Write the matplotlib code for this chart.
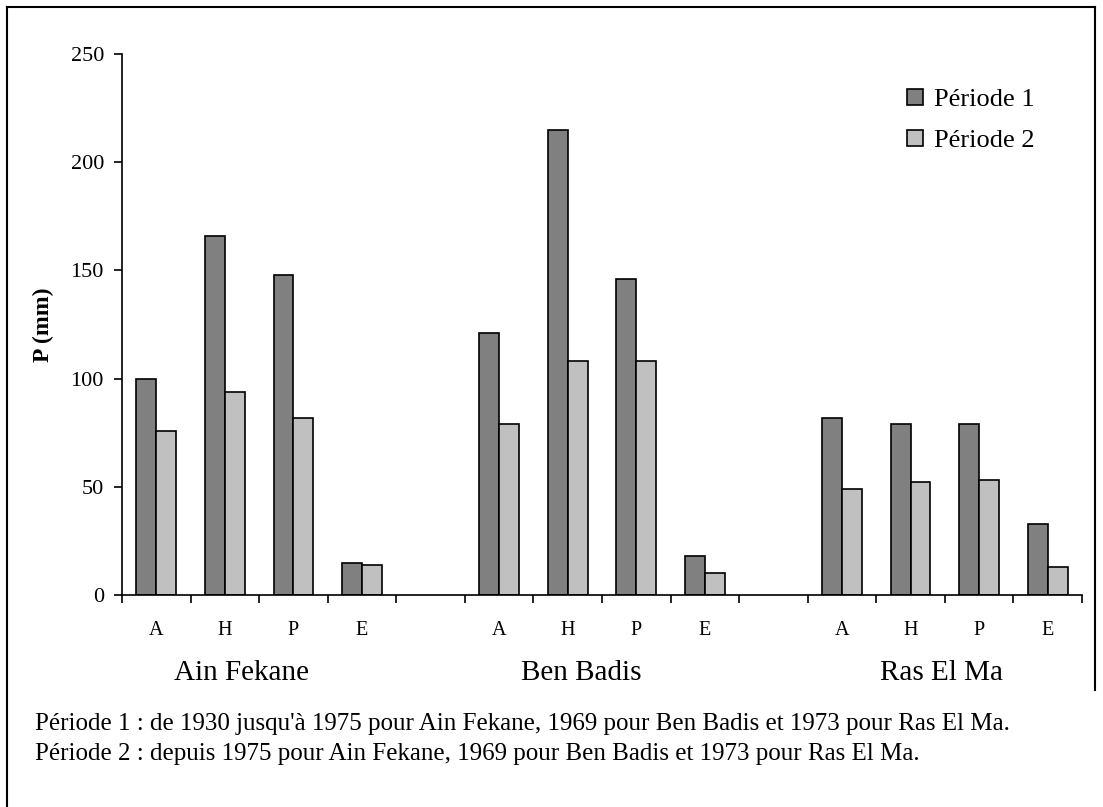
import numpy as np
import matplotlib.pyplot as plt
from matplotlib.lines import Line2D

plt.rcParams['font.family'] = ['Liberation Serif', 'DejaVu Serif']

stations = ['Ain Fekane', 'Ben Badis', 'Ras El Ma']
seasons = ['A', 'H', 'P', 'E']
periode1 = [[100, 166, 148, 15], [121, 215, 146, 18], [82, 79, 79, 33]]
periode2 = [[76, 94, 82, 14], [79, 108, 108, 10], [49, 52, 53, 13]]

# one empty slot between stations
slot = []
for i in range(len(stations)):
    slot += [i * 5 + j for j in range(4)]
slot = np.array(slot)
p1 = np.array(periode1).ravel()
p2 = np.array(periode2).ravel()

fig = plt.figure(figsize=(11.03, 8.07), dpi=100)
ax = fig.add_axes([0.1106, 0.2627, 0.8703, 0.6704])

w = 0.29
ax.bar(slot - w / 2, p1, w, color='#808080', edgecolor='black', linewidth=1.2,
       label='Période 1')
ax.bar(slot + w / 2, p2, w, color='#c0c0c0', edgecolor='black', linewidth=1.2,
       label='Période 2')

ax.set_xlim(-0.5, 13.5)
ax.set_ylim(0, 250)
ax.set_yticks(range(0, 251, 50))
ax.set_xticks(np.arange(-0.5, 13.6, 1))
ax.set_xticklabels([])
ax.set_xticks(slot, [seasons[j % 5] for j in slot], minor=True)
ax.tick_params(axis='x', which='major', direction='out', length=6, width=1.2)
ax.tick_params(axis='x', which='minor', length=0, pad=19, labelsize=14.5)
ax.tick_params(axis='y', direction='out', length=6, width=1.2, labelsize=16, pad=7)
for s in ['top', 'right']:
    ax.spines[s].set_visible(False)
for s in ['left', 'bottom']:
    ax.spines[s].set_linewidth(1.2)

ax.set_ylabel('P (mm)', fontsize=17, fontweight='bold', labelpad=12)

# station names under each group
for x, name in zip([1.25, 6.2, 11.45], stations):
    ax.text(x, -0.145, name, transform=ax.get_xaxis_transform(),
            ha='center', va='center', fontsize=21)

leg = ax.legend(loc='upper right', bbox_to_anchor=(0.975, 0.98), frameon=False,
                fontsize=19, handlelength=0.6, handleheight=0.6,
                handletextpad=0.4, labelspacing=0.7)

fig.text(0.032, 0.103, "Période 1 : de 1930 jusqu'à 1975 pour Ain Fekane, 1969 pour Ben Badis "
         "et 1973 pour Ras El Ma.", fontsize=18, va='center')
fig.text(0.032, 0.066, "Période 2 : depuis 1975 pour Ain Fekane, 1969 pour Ben Badis "
         "et 1973 pour Ras El Ma.", fontsize=18, va='center')

# outer frame
frame_kw = dict(color='black', linewidth=1.5, transform=fig.transFigure)
fig.add_artist(Line2D([7 / 1103, 1095 / 1103], [1 - 7 / 807, 1 - 7 / 807], **frame_kw))
fig.add_artist(Line2D([7 / 1103, 7 / 1103], [0, 1 - 7 / 807], **frame_kw))
fig.add_artist(Line2D([1095 / 1103, 1095 / 1103], [1 - 690 / 807, 1 - 7 / 807], **frame_kw))

fig.savefig('out.png', dpi=100)
